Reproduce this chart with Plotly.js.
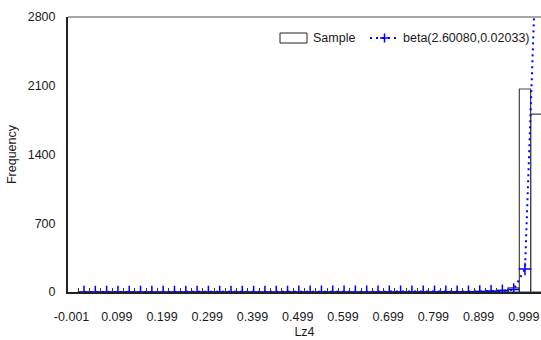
<!DOCTYPE html>
<html>
<head>
<meta charset="utf-8">
<script src="https://cdn.plot.ly/plotly-3.0.1.min.js"></script>
<style>html,body{margin:0;padding:0;background:#fff;}#chart{width:541px;height:340px;}</style>
</head>
<body>
<div id="chart"></div>
<script>
// Bin centers (Lz4), bin width 0.025
var binCenters = [0.0265,0.0515,0.0765,0.1015,0.1265,0.1515,0.1765,0.2015,0.2265,0.2515,
  0.2765,0.3015,0.3265,0.3515,0.3765,0.4015,0.4265,0.4515,0.4765,0.5015,
  0.5265,0.5515,0.5765,0.6015,0.6265,0.6515,0.6765,0.7015,0.7265,0.7515,
  0.7765,0.8015,0.8265,0.8515,0.8765,0.9015,0.9265,0.9515,0.9765,1.0015,1.0265];
var binWidth = 0.025;
// Sample frequencies
var sampleFreq = [0,0,0,0,0,0,0,0,0,0,
  0,0,0,0,0,0,0,0,0,0,
  0,0,0,0,0,0,1,1,1,1,
  1,2,2,3,4,6,9,20,42,2067,1812];
// Fitted beta(2.60080,0.02033) expected frequencies
var betaFreq = [0,0,0,0,0,0,0,0,0,0,
  0,0,0,0,0,0,0,0,0,1,
  1,1,1,1,1,1,1,1,1,1,
  1,1,2,2,3,5,8,12,25,234,3450];
var xTickVals = [-0.001,0.099,0.199,0.299,0.399,0.499,0.599,0.699,0.799,0.899,0.999];
var xTickText = ["-0.001","0.099","0.199","0.299","0.399","0.499","0.599","0.699","0.799","0.899","0.999"];
var yTickVals = [0,700,1400,2100,2800];
var legendLabels = ["Sample","beta(2.60080,0.02033)"];

var F = 'Arial, "Liberation Sans", sans-serif';
var txt = '#1a1a1a';

var traces = [
  {type:'bar', x:binCenters, y:sampleFreq, width:binWidth,
   marker:{color:'rgba(0,0,0,0)', line:{color:'#444', width:1.2}},
   showlegend:false, hoverinfo:'skip'},
  {type:'scatter', mode:'lines+markers', x:binCenters, y:betaFreq,
   line:{color:'#0000ff', width:2, dash:'2px,4px'},
   marker:{symbol:'cross-thin', size:9, color:'#0000ff', line:{color:'#0000ff', width:1.5}},
   showlegend:false, hoverinfo:'skip'}
];

// pixel -> paper helpers for the hand-drawn legend
var L=68, R=0, T=17, B=48, W=541, H=340;
function px(p){return (p-L)/(W-L-R);}
function py(p){return (H-B-p)/(H-T-B);}

var layout = {
  width:W, height:H,
  margin:{l:L, r:R, t:T, b:B, pad:0},
  paper_bgcolor:'#fff', plot_bgcolor:'#fff',
  font:{family:F, size:12.5, color:txt},
  bargap:0,
  xaxis:{range:[-0.0089,1.0369], tickmode:'array', tickvals:xTickVals, ticktext:xTickText,
    ticks:'', showgrid:false, zeroline:false, showline:true, linecolor:'#222', linewidth:2,
    ticklabelstandoff:12, tickfont:{size:12.5, color:txt},
    minor:{tickmode:'linear', tick0:0.014, dtick:0.025, ticks:'inside', ticklen:4, tickcolor:'#333', tickwidth:1, showgrid:false},
    title:{text:'Lz4', font:{size:12.5, color:txt}, standoff:4}},
  yaxis:{range:[0,2800], tickmode:'array', tickvals:yTickVals, ticks:'', showgrid:false,
    zeroline:false, showline:true, linecolor:'#222', linewidth:2, ticklabelstandoff:8,
    tickfont:{size:12.5, color:txt},
    title:{text:'Frequency', font:{size:12.5, color:txt}, standoff:8}},
  shapes:[
    {type:'line', xref:'paper', yref:'paper', x0:0, x1:1, y0:1, y1:1, line:{color:'#888', width:1.5}},
    {type:'rect', xref:'paper', yref:'paper', x0:px(280), x1:px(307), y0:py(43), y1:py(33), line:{color:'#222', width:1}},
    {type:'line', xref:'paper', yref:'paper', x0:px(370), x1:px(398), y0:py(38), y1:py(38), line:{color:'#0000ff', width:2, dash:'2px,4px'}},
    {type:'line', xref:'paper', yref:'paper', x0:px(380), x1:px(389), y0:py(38), y1:py(38), line:{color:'#0000ff', width:1.5}},
    {type:'line', xref:'paper', yref:'paper', x0:px(384.5), x1:px(384.5), y0:py(33.5), y1:py(42.5), line:{color:'#0000ff', width:1.5}}
  ],
  annotations:[
    {xref:'paper', yref:'paper', x:px(311), y:py(38), xanchor:'left', yanchor:'middle', text:legendLabels[0], showarrow:false, font:{size:12.5, color:txt}},
    {xref:'paper', yref:'paper', x:px(401), y:py(38), xanchor:'left', yanchor:'middle', text:legendLabels[1], showarrow:false, font:{size:12.5, color:txt}}
  ]
};

Plotly.newPlot('chart', traces, layout, {staticPlot:true, displayModeBar:false});
</script>
</body>
</html>
